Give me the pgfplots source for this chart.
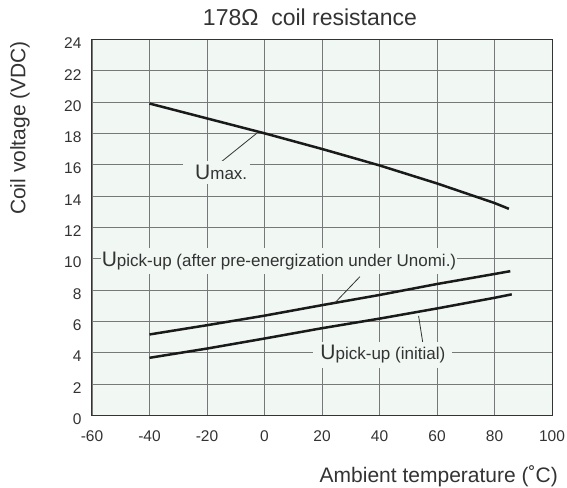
\documentclass[border=0pt]{standalone}
\usepackage{pgfplots}
\pgfplotsset{compat=1.18}
\usepackage{fontspec}
\setmainfont{Liberation Sans}
\definecolor{bg}{HTML}{F1F7F3}
\definecolor{gridc}{HTML}{787878}
\definecolor{txt}{HTML}{333333}
\definecolor{ln}{HTML}{1A1A1A}
\begin{document}
\begin{tikzpicture}
\path[use as bounding box] (-92pt,-71.7pt) rectangle (475pt,415.3pt);
\begin{axis}[
 at={(0,0)}, anchor=south west,
 scale only axis, width=460pt, height=376pt,
 xmin=-60, xmax=100, ymin=0, ymax=24,
 xtick={-60,-40,...,100}, ytick={0,2,...,24},
 grid=major, major grid style={gridc, line width=0.9pt},
 axis background/.style={fill=bg},
 axis line style={txt, line width=1pt},
 major tick length=0pt,
 tick label style={font=\fontsize{15.5}{18}\selectfont, text=txt},
 /pgf/number format/assume math mode=true,
 yticklabel style={xshift=-7pt, yshift=-4pt},
 xticklabel style={yshift=-12pt},
 clip=false,
]
\addplot[ln, line width=2.5pt, mark=none] coordinates {(-40,19.9) (-20,18.95) (0,18.0) (20,17.0) (40,15.95) (60,14.8) (80,13.55) (85,13.18)};
\addplot[ln, line width=2.5pt, mark=none] coordinates {(-40,5.16) (-20,5.75) (0,6.36) (20,7.03) (40,7.68) (60,8.38) (80,9.02) (85.5,9.2)};
\addplot[ln, line width=2.5pt, mark=none] coordinates {(-40,3.67) (-20,4.26) (0,4.9) (20,5.56) (40,6.17) (60,6.82) (80,7.5) (86,7.72)};
\draw[txt, line width=0.8pt] (axis cs:-14.9,16.2) -- (axis cs:-2.7,18.0);
\draw[txt, line width=0.8pt] (axis cs:33.2,8.85) -- (axis cs:24.6,7.2);
\draw[txt, line width=0.8pt] (axis cs:55.3,4.34) -- (axis cs:53.6,6.34);
\node[fill=bg, anchor=base west, inner xsep=3pt, inner ysep=4pt, text=txt, font=\fontsize{17}{20}\selectfont] at (axis cs:-28.35,15.06) {\hspace{9pt}{\fontsize{21}{24}\selectfont U}max.};
\node[fill=bg, anchor=base west, inner xsep=1pt, inner ysep=4pt, text=txt, font=\fontsize{17}{20}\selectfont] at (axis cs:-57.0,9.49) {{\fontsize{21}{24}\selectfont U}pick-up (after pre-energization under Unomi.)};
\node[fill=bg, anchor=base west, inner xsep=7pt, inner ysep=4pt, text=txt, font=\fontsize{17}{20}\selectfont] at (axis cs:16.97,3.53) {{\fontsize{21}{24}\selectfont U}pick-up (initial)};
\end{axis}
\node[font=\fontsize{23}{27}\selectfont, text=txt] at (218pt,397.8pt) {178Ω\ \ coil resistance};
\node[rotate=90, font=\fontsize{21}{24}\selectfont, text=txt] at (-72pt,287.3pt) {Coil voltage (VDC)};
\node[anchor=base east, inner sep=0pt, font=\fontsize{21}{24}\selectfont, text=txt] at (466pt,-66.7pt) {Ambient temperature (˚C)};
\end{tikzpicture}
\end{document}
